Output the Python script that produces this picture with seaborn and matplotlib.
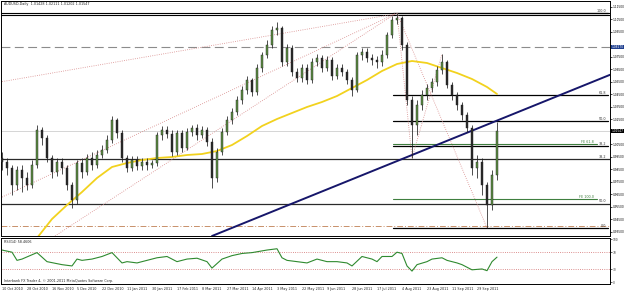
import numpy as np
import pandas as pd
import matplotlib
matplotlib.use("Agg")
import matplotlib.pyplot as plt
import seaborn as sns

sns.set_style("white")
plt.rcParams['font.family'] = ['DejaVu Sans']

# ---------------- data ----------------
header = "AUDUSD,Daily  1.01428 1.02111 1.01202 1.01547"
date_labels = ["10 Oct 2010", "28 Oct 2010", "16 Nov 2010", "5 Dec 2010", "22 Dec 2010",
               "11 Jan 2011", "30 Jan 2011", "17 Feb 2011", "8 Mar 2011", "27 Mar 2011",
               "14 Apr 2011", "3 May 2011", "22 May 2011", "9 Jun 2011", "28 Jun 2011",
               "17 Jul 2011", "4 Aug 2011", "23 Aug 2011", "11 Sep 2011", "29 Sep 2011"]
date_label_bars = [0, 5, 10, 15, 20, 25, 30, 35, 40, 45, 50, 55, 60, 65, 70, 75, 80, 85, 90, 95]

first_open = 0.9939
closes = [0.9907, 0.9859, 0.9723, 0.9843, 0.9779, 0.9723, 0.9883, 1.0163, 1.0099, 0.9939,
          0.9827, 0.9907, 0.9859, 0.9723, 0.9603, 0.9899, 0.9827, 0.9939, 0.9883, 0.9963,
          1.0003, 1.0083, 1.0243, 1.0139, 0.9939, 0.9859, 0.9923, 0.9875, 0.9907, 0.9883,
          0.9899, 1.0123, 1.0163, 1.0131, 0.9987, 1.0139, 1.0019, 1.0147, 1.0179, 1.0123,
          1.0163, 1.0067, 0.9779, 0.9987, 1.0147, 1.0243, 1.0307, 1.0403, 1.0483, 1.0563,
          1.0467, 1.0659, 1.0763, 1.0843, 1.0963, 1.0979, 1.0707, 1.0819, 1.0627, 1.0579,
          1.0659, 1.0563, 1.0707, 1.0739, 1.0659, 1.0723, 1.0595, 1.0659, 1.0627, 1.0563,
          1.0483, 1.0763, 1.0787, 1.0739, 1.0723, 1.0707, 1.0763, 1.0923, 1.1043, 1.1059,
          1.0843, 1.0403, 1.0203, 1.0363, 1.0443, 1.0499, 1.0547, 1.0643, 1.0707, 1.0523,
          1.0443, 1.0363, 1.0283, 1.0179, 0.9859, 0.9907, 0.9723, 0.9563, 0.9803, 1.0155]
highs = [0.9987, 0.9939, 0.9883, 0.9875, 0.9883, 0.9827, 0.9923, 1.0203, 1.0187, 1.0123,
         0.9963, 0.9939, 0.9939, 0.9883, 0.9747, 0.9923, 0.9939, 0.9971, 0.9987, 1.0003,
         1.0043, 1.0123, 1.0275, 1.0259, 1.0163, 0.9963, 0.9955, 0.9955, 0.9939, 0.9939,
         0.9923, 1.0147, 1.0195, 1.0195, 1.0163, 1.0163, 1.0163, 1.0179, 1.0203, 1.0211,
         1.0195, 1.0187, 1.0099, 1.0019, 1.0179, 1.0275, 1.0339, 1.0435, 1.0515, 1.0595,
         1.0579, 1.0691, 1.0787, 1.0883, 1.0995, 1.1027, 1.0995, 1.0851, 1.0843, 1.0659,
         1.0691, 1.0691, 1.0739, 1.0771, 1.0763, 1.0755, 1.0747, 1.0691, 1.0691, 1.0651,
         1.0587, 1.0787, 1.0819, 1.0819, 1.0771, 1.0755, 1.0803, 1.0947, 1.1075, 1.1099,
         1.1075, 1.0867, 1.0435, 1.0403, 1.0483, 1.0531, 1.0579, 1.0675, 1.0771, 1.0723,
         1.0547, 1.0467, 1.0387, 1.0307, 1.0203, 0.9963, 0.9939, 0.9747, 0.9843, 1.0227]
lows = [0.9843, 0.9803, 0.9643, 0.9683, 0.9667, 0.9683, 0.9699, 0.9859, 1.0043, 0.9907,
        0.9779, 0.9795, 0.9811, 0.9683, 0.9539, 0.9571, 0.9779, 0.9803, 0.9843, 0.9859,
        0.9939, 0.9979, 1.0059, 1.0099, 0.9907, 0.9827, 0.9835, 0.9843, 0.9843, 0.9843,
        0.9859, 0.9875, 1.0083, 1.0099, 0.9955, 0.9963, 0.9987, 1.0003, 1.0115, 1.0083,
        1.0099, 1.0035, 0.9699, 0.9747, 0.9963, 1.0123, 1.0211, 1.0283, 1.0371, 1.0451,
        1.0435, 1.0443, 1.0627, 1.0739, 1.0819, 1.0923, 1.0675, 1.0675, 1.0595, 1.0547,
        1.0547, 1.0531, 1.0539, 1.0675, 1.0627, 1.0635, 1.0563, 1.0571, 1.0595, 1.0531,
        1.0435, 1.0467, 1.0723, 1.0707, 1.0683, 1.0659, 1.0675, 1.0739, 1.0899, 1.1011,
        1.0803, 1.0363, 0.9939, 1.0123, 1.0323, 1.0403, 1.0467, 1.0515, 1.0611, 1.0499,
        1.0403, 1.0323, 1.0243, 1.0147, 0.9803, 0.9779, 0.9643, 0.9379, 0.9523, 0.9763]

ma_bars = [7, 10, 13, 16, 19, 22, 25, 28, 31, 34, 37, 40, 43, 46, 49, 52, 55, 58, 61, 64,
           67, 70, 73, 76, 79, 82, 85, 88, 91, 94, 97, 99]
ma_values = [0.9299, 0.9451, 0.9563, 0.9667, 0.9779, 0.9867, 0.9899, 0.9923, 0.9939, 0.9947,
             0.9963, 0.9971, 0.9995, 1.0043, 1.0115, 1.0195, 1.0251, 1.0299, 1.0347, 1.0387,
             1.0435, 1.0499, 1.0563, 1.0635, 1.0691, 1.0715, 1.0699, 1.0659, 1.0619, 1.0571,
             1.0507, 1.0451]

rsi_bars = [0, 2, 3, 4, 7, 9, 12, 14, 15, 16, 18, 20, 22, 24, 25, 27, 29, 31, 33, 35,
            37, 39, 41, 42, 44, 46, 48, 50, 52, 53, 55, 56, 57, 59, 61, 63, 65, 67, 69, 70,
            72, 74, 75, 76, 78, 79, 80, 81, 82, 83, 85, 86, 88, 89, 91, 92, 94, 96, 97, 98, 99]
rsi_values = [75, 70, 51, 54, 69, 48, 41, 38, 54, 51, 54, 60, 69, 45, 48, 45, 51, 57, 60, 48,
              54, 56, 48, 33, 54, 62, 67, 69, 73, 75, 78, 57, 51, 48, 45, 54, 48, 48, 45, 38,
              60, 54, 48, 60, 60, 70, 67, 38, 26, 41, 48, 54, 57, 51, 45, 41, 29, 31, 27, 48, 58.46]
rsi_levels = [70, 30]
rsi_label = "RSI(14) 58.4606"

price_ticks = [1.1150, 1.1050, 1.0950, 1.0750, 1.0650, 1.0550, 1.0450, 1.0350, 1.0250,
               1.0050, 0.9950, 0.9850, 0.9750, 0.9650, 0.9550, 0.9450, 0.9350]
current_price = 1.0155
hline_dashed = 1.0827
hline_dashdot = 0.9395
top_lines = [1.1099, 1.1080]

# Fibonacci retracement 1 (Jul-2011 high to Oct-2011 low)
fib1_bars = [79, 97]
fib1_prices = [1.1099, 0.9379]
fib1_levels = [0.0, 38.2, 50.0, 61.8, 100.0]
# Fibonacci retracement 2 (2010 low to 2011 high), drawn full width
fib2_prices = [1.1083, 0.8067]
fib2_levels = [38.2, 50.0]
# Fibonacci expansion
fe_bars = [79, 82, 88]
fe_prices = [1.1099, 0.9939, 1.0771]
fe_levels = [61.8, 100.0]
# trend line anchors
trend_bars = [42, 82]
trend_prices = [0.9315, 0.9963]
# dotted lines converging on the July high
fan_start_bars = [-0.4, -0.4, 10.6]
fan_start_prices = [1.0547, 0.9619, 0.9315]
fan_end_bar = 78.6
fan_end_price = 1.1091

# ---------------- layout ----------------
W, H = 625, 293
fig = plt.figure(figsize=(W / 100, H / 100), dpi=100)


def rect(x0, y0, x1, y1):
    return [x0 / W, 1 - y1 / H, (x1 - x0) / W, (y1 - y0) / H]


ax = fig.add_axes(rect(1, 0.5, 610, 236))
ax2 = fig.add_axes(rect(1, 238, 610, 284))
XL = (-0.2, 121.6)
ax.set_xlim(*XL)
ax2.set_xlim(*XL)
ax.set_ylim(0.9315, 1.1199)
ax2.set_ylim(-4, 103)

FS = 2.4
FSR = 2.1
for a in (ax, ax2):
    for s in a.spines.values():
        s.set_color('black')
        s.set_linewidth(0.7)
    a.set_facecolor('white')

# ---------------- main panel ----------------
n = len(closes)
bars = np.arange(n)
opens = np.array([first_open] + closes[:-1])
c = np.array(closes)
df = pd.DataFrame({"bar": bars, "open": opens, "close": c, "high": highs, "low": lows})

# horizontal objects
for p in top_lines:
    ax.axhline(p, color='black', lw=0.8, zorder=2)
ax.axhline(hline_dashed, color='#8c8c8c', lw=0.8, ls=(0, (8, 4)), zorder=2)
ax.axhline(hline_dashdot, color='#c8906a', lw=0.7, ls=(0, (6, 2, 1, 2)), zorder=2)
ax.axhline(current_price, color='#cfcfcf', lw=0.6, zorder=1)

f2_hi, f2_lo = fib2_prices
for lv in fib2_levels:
    p = f2_hi - (f2_hi - f2_lo) * lv / 100
    ax.axhline(p, color='#2a2a2a', lw=0.9, zorder=2)
    ax.text(120.9, p, f"{lv:.1f}", fontsize=FS, ha='right', va='bottom', color='#333333')

f1_hi, f1_lo = fib1_prices
for lv in fib1_levels:
    p = f1_lo + (f1_hi - f1_lo) * lv / 100
    ax.plot([fib1_bars[0] - 0.8, 121.2], [p, p], color='black', lw=0.9, zorder=2)
    ax.text(120.9, p, f"{lv:.1f}", fontsize=FS, ha='right', va='bottom', color='#333333')
ax.plot(fib1_bars, fib1_prices, color='#d88a8a', lw=0.6, ls=':', zorder=2)

A, B, C = fe_prices
for lv in fe_levels:
    p = C - (A - B) * lv / 100
    ax.plot([fib1_bars[0] - 0.8, 119.0], [p, p], color='#3f7f3f', lw=0.8, zorder=2)
    ax.text(118.3, p, f"FE {lv:.1f}", fontsize=FS, ha='right', va='bottom', color='#3f7f3f')
ax.plot(fe_bars, fe_prices, color='#d88a8a', lw=0.6, ls=':', zorder=2)

for sb, sp in zip(fan_start_bars, fan_start_prices):
    ax.plot([sb, fan_end_bar], [sp, fan_end_price], color='#d88a8a', lw=0.6, ls=':', zorder=2)

ax.axline((trend_bars[0], trend_prices[0]), (trend_bars[1], trend_prices[1]),
          color='#16166a', lw=1.4, zorder=3)

# candles
ax.vlines(df["bar"], df["low"], df["high"], color='#1e1e1e', lw=0.55, zorder=4)
up = df["close"] >= df["open"]
body = (df["close"] - df["open"]).abs().clip(lower=0.0004)
bottom = df[["open", "close"]].min(axis=1)
ax.bar(df["bar"][up], body[up], bottom=bottom[up], width=0.5, color='#5e8f45',
       edgecolor='#1e1e1e', linewidth=0.3, zorder=5)
ax.bar(df["bar"][~up], body[~up], bottom=bottom[~up], width=0.5, color='#2a2a2a',
       edgecolor='#1e1e1e', linewidth=0.3, zorder=5)

# moving average
sns.lineplot(x=ma_bars, y=ma_values, ax=ax, color='#f2d21e', lw=1.3, zorder=3)

# axis ticks / labels
ax.yaxis.tick_right()
ax.set_yticks(price_ticks)
ax.set_yticklabels([f"{p:.5f}" for p in price_ticks])
ax.tick_params(axis='y', labelsize=FSR, length=1.5, width=0.5, pad=0.6, colors='black')
ax.set_xticks([])
ax.set_xlabel("")
ax.set_ylabel("")
ax.text(0.005, 0.995, header, transform=ax.transAxes, fontsize=FS, ha='left', va='top')
ax.text(1.0025, hline_dashed, f"{hline_dashed:.5f}", transform=ax.get_yaxis_transform(),
        fontsize=FSR, ha='left', va='center', color='white',
        bbox=dict(boxstyle='square,pad=0.1', fc='#1f3f8f', ec='none'), clip_on=False)
ax.text(1.0025, current_price, "1.01547", transform=ax.get_yaxis_transform(),
        fontsize=FSR, ha='left', va='center', color='white',
        bbox=dict(boxstyle='square,pad=0.1', fc='black', ec='none'), clip_on=False)

# ---------------- RSI panel ----------------
for lv in rsi_levels:
    ax2.axhline(lv, color='#d06a6a', lw=0.6, ls=':')
sns.lineplot(x=rsi_bars, y=rsi_values, ax=ax2, color='#2f8a2f', lw=0.8)
ax2.yaxis.tick_right()
ax2.set_yticks([100, 70, 30, 0])
ax2.set_yticklabels(["100", "70", "30", "0"])
ax2.tick_params(axis='y', labelsize=FSR, length=1.5, width=0.5, pad=0.6)
ax2.set_xticks(date_label_bars)
ax2.set_xticklabels(date_labels, ha='left')
ax2.tick_params(axis='x', labelsize=FS, length=1.5, width=0.5, pad=0.8)
ax2.set_xlabel("")
ax2.set_ylabel("")
ax2.text(0.005, 0.95, rsi_label, transform=ax2.transAxes, fontsize=FS, ha='left', va='top')
ax2.text(0.005, 0.03, "Interbank FX Trader 4, \u00a9 2001-2011 MetaQuotes Software Corp.",
         transform=ax2.transAxes, fontsize=FS, ha='left', va='bottom')

fig.savefig("out.png", dpi=100)
